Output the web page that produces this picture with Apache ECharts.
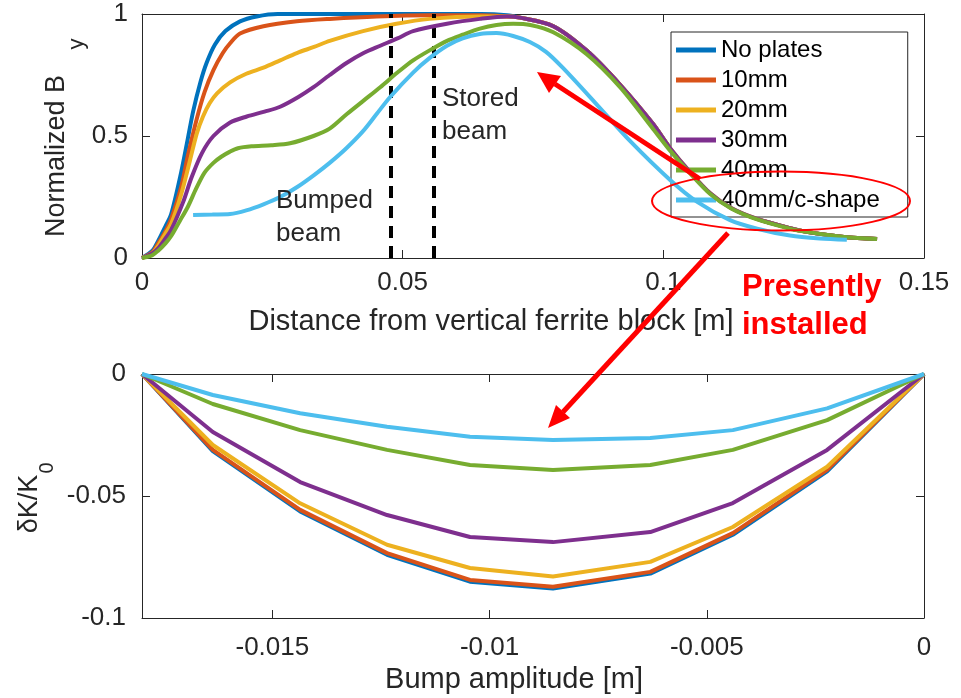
<!DOCTYPE html>
<html><head><meta charset="utf-8">
<script src="https://cdn.jsdelivr.net/npm/echarts@6/dist/echarts.min.js"></script>
<style>html,body{margin:0;padding:0;background:#fff}#c{width:961px;height:698px}</style>
</head><body><div id="c"></div>
<script>
// ---------- data ----------
const seriesNames = ['No plates', '10mm', '20mm', '30mm', '40mm', '40mm/c-shape'];
const colors = ['#0072BD', '#D95319', '#EDB120', '#7E2F8E', '#77AC30', '#4DBEEE'];

// Top plot: normalized By vs distance [m]  ([x, y] pairs)
const byNoPlates = [[0,0],[0.002,0.03],[0.0031,0.07],[0.0045,0.13],[0.0056,0.18],[0.0075,0.35],[0.0088,0.49],[0.0098,0.60],[0.0112,0.72],[0.0124,0.80],[0.014,0.875],[0.016,0.93],[0.0188,0.97],[0.022,0.99],[0.026,1.0],[0.04,1.0],[0.055,1.0],[0.065,1.0],[0.070,0.995],[0.0725,0.985],[0.0789,0.95],[0.0853,0.85],[0.0917,0.71],[0.098,0.55],[0.1013,0.45],[0.105,0.355],[0.109,0.265],[0.113,0.205],[0.118,0.16],[0.1243,0.122],[0.1275,0.107],[0.133,0.09],[0.1364,0.083],[0.141,0.078]];
const by10mm = [[0,0],[0.002,0.025],[0.0031,0.06],[0.0045,0.11],[0.0056,0.16],[0.0075,0.29],[0.0088,0.42],[0.0105,0.57],[0.012,0.68],[0.0137,0.77],[0.0155,0.84],[0.0169,0.88],[0.0188,0.92],[0.0233,0.95],[0.0297,0.97],[0.036,0.98],[0.045,0.99],[0.055,0.995],[0.065,0.995],[0.070,0.99],[0.0725,0.985],[0.0789,0.95],[0.0853,0.85],[0.0917,0.71],[0.098,0.55],[0.1013,0.45],[0.105,0.355],[0.109,0.265],[0.113,0.205],[0.118,0.16],[0.1243,0.122],[0.1275,0.107],[0.133,0.09],[0.1364,0.083],[0.141,0.078]];
const by20mm = [[0,0],[0.002,0.02],[0.0031,0.05],[0.0045,0.10],[0.0056,0.14],[0.0075,0.26],[0.0092,0.40],[0.0105,0.51],[0.0117,0.58],[0.013,0.635],[0.0144,0.675],[0.0169,0.72],[0.02,0.755],[0.0233,0.78],[0.0265,0.81],[0.0297,0.84],[0.033,0.865],[0.036,0.89],[0.0424,0.93],[0.0488,0.96],[0.0552,0.98],[0.0648,0.99],[0.070,0.99],[0.0725,0.985],[0.0789,0.95],[0.0853,0.85],[0.0917,0.71],[0.098,0.55],[0.1013,0.45],[0.105,0.355],[0.109,0.265],[0.113,0.205],[0.118,0.16],[0.1243,0.122],[0.1275,0.107],[0.133,0.09],[0.1364,0.083],[0.141,0.078]];
const by30mm = [[0,0],[0.002,0.02],[0.0031,0.04],[0.0045,0.08],[0.0056,0.115],[0.0079,0.23],[0.0095,0.33],[0.0115,0.43],[0.0137,0.50],[0.0169,0.555],[0.0201,0.58],[0.0235,0.60],[0.0265,0.62],[0.030,0.66],[0.0329,0.70],[0.036,0.75],[0.0393,0.80],[0.0425,0.84],[0.0457,0.87],[0.049,0.90],[0.052,0.93],[0.0585,0.96],[0.0648,0.98],[0.070,0.99],[0.0725,0.985],[0.0789,0.95],[0.0853,0.85],[0.0917,0.71],[0.098,0.55],[0.1013,0.45],[0.105,0.355],[0.109,0.265],[0.113,0.205],[0.118,0.16],[0.1243,0.122],[0.1275,0.107],[0.133,0.09],[0.1364,0.083],[0.141,0.078]];
const by40mm = [[0,0],[0.002,0.012],[0.0031,0.03],[0.0045,0.06],[0.0056,0.09],[0.0072,0.15],[0.0088,0.21],[0.0104,0.285],[0.012,0.35],[0.0137,0.39],[0.0152,0.415],[0.0168,0.435],[0.0184,0.45],[0.021,0.458],[0.0248,0.462],[0.0284,0.47],[0.0329,0.50],[0.036,0.53],[0.0393,0.59],[0.0425,0.645],[0.0457,0.70],[0.049,0.76],[0.052,0.81],[0.0555,0.855],[0.0585,0.89],[0.0615,0.915],[0.0648,0.94],[0.068,0.955],[0.0712,0.96],[0.0745,0.955],[0.0789,0.925],[0.0853,0.835],[0.0917,0.70],[0.098,0.53],[0.1013,0.44],[0.105,0.35],[0.109,0.262],[0.113,0.203],[0.118,0.158],[0.1243,0.12],[0.1275,0.107],[0.133,0.09],[0.1364,0.083],[0.141,0.078]];
const byCShape = [[0.0098,0.176],[0.0135,0.178],[0.0169,0.18],[0.0200,0.195],[0.0233,0.22],[0.0265,0.25],[0.0297,0.29],[0.033,0.34],[0.036,0.39],[0.0392,0.45],[0.0424,0.52],[0.045,0.59],[0.0476,0.66],[0.052,0.76],[0.0552,0.82],[0.0585,0.87],[0.0615,0.90],[0.0648,0.918],[0.068,0.922],[0.0712,0.91],[0.0744,0.885],[0.0775,0.845],[0.0807,0.78],[0.0872,0.63],[0.0936,0.48],[0.1013,0.32],[0.1065,0.23],[0.1128,0.155],[0.118,0.12],[0.1243,0.092],[0.13,0.08],[0.1352,0.075]];

const beamLines = [0.0478, 0.0559];   // dashed vertical markers [m]

// Bottom plot: dK/K0 vs bump amplitude [m]
const bumpX = [-0.018, -0.01637, -0.01436, -0.01236, -0.01045, -0.00854, -0.0063, -0.0044, -0.00223, 0];
const dkNoPlates = [0, -0.0316, -0.0563, -0.0741, -0.0851, -0.0879, -0.0818, -0.0659, -0.0399, 0];
const dk10mm     = [0, -0.0311, -0.0557, -0.0734, -0.0844, -0.0872, -0.0811, -0.0652, -0.0393, 0];
const dk20mm     = [0, -0.0291, -0.0530, -0.0700, -0.0795, -0.0830, -0.0770, -0.0627, -0.0380, 0];
const dk30mm     = [0, -0.0238, -0.0443, -0.0578, -0.0668, -0.0689, -0.0648, -0.0529, -0.0311, 0];
const dk40mm     = [0, -0.0123, -0.0230, -0.0311, -0.0373, -0.0393, -0.0373, -0.0311, -0.0189, 0];
const dkCShape   = [0, -0.0086, -0.0161, -0.0216, -0.0257, -0.0270, -0.0262, -0.0230, -0.0141, 0];

const bumpTicks = [-0.015, -0.01, -0.005, 0];

// ---------- chart ----------
const FONT = 'Liberation Sans, Arial, Helvetica, sans-serif';
const AX = '#262626';
const chart = echarts.init(document.getElementById('c'), null, {renderer: 'canvas'});

function axisBase(extra) {
  return Object.assign({
    type: 'value',
    splitLine: {show: false},
    axisLine: {show: true, onZero: false, lineStyle: {color: AX, width: 1}},
    axisTick: {show: true, inside: true, length: 8, lineStyle: {color: AX, width: 1}},
    axisLabel: {color: AX, fontSize: 26, fontFamily: FONT}
  }, extra);
}

const topSets = [byNoPlates, by10mm, by20mm, by30mm, by40mm, byCShape];
const botSets = [dkNoPlates, dk10mm, dk20mm, dk30mm, dk40mm, dkCShape];

const series = [];
topSets.forEach((d, i) => {
  const s = {
    name: seriesNames[i], type: 'line', xAxisIndex: 0, yAxisIndex: 0,
    data: d, showSymbol: false, symbol: 'none', smooth: 0.3,
    lineStyle: {color: colors[i], width: 4}, itemStyle: {color: colors[i]},
    z: 2 + i
  };
  if (i === topSets.length - 1) {
    s.markLine = {
      silent: true, symbol: 'none', label: {show: false}, precision: 6,
      lineStyle: {color: '#000', type: [12, 8], width: 4},
      data: beamLines.map(v => ({xAxis: v}))
    };
  }
  series.push(s);
});
botSets.forEach((d, i) => {
  series.push({
    name: seriesNames[i], type: 'line', xAxisIndex: 2, yAxisIndex: 2,
    data: bumpX.map((x, k) => [x, d[k]]), showSymbol: false, symbol: 'none',
    lineStyle: {color: colors[i], width: 4}, itemStyle: {color: colors[i]},
    z: 2 + i
  });
});

const txt = (o) => Object.assign({fill: AX, fontFamily: FONT}, o);
const RED = '#FF0000';

chart.setOption({
  animation: false,
  backgroundColor: '#fff',
  color: colors,
  grid: [
    {left: 142, top: 14, width: 782, height: 244},
    {left: 142, top: 374, width: 782, height: 244}
  ],
  xAxis: [
    axisBase({gridIndex: 0, position: 'bottom', min: 0, max: 0.15, interval: 0.05,
      axisLabel: {color: AX, fontSize: 26, fontFamily: FONT, margin: 12}}),
    axisBase({gridIndex: 0, position: 'top', min: 0, max: 0.15, interval: 0.05, axisLabel: {show: false}}),
    axisBase({gridIndex: 1, position: 'bottom', min: -0.018, max: 0,
      axisTick: {show: true, inside: true, length: 8, lineStyle: {color: AX}, customValues: bumpTicks},
      axisLabel: {color: AX, fontSize: 26, fontFamily: FONT, margin: 17, customValues: bumpTicks}}),
    axisBase({gridIndex: 1, position: 'top', min: -0.018, max: 0,
      axisTick: {show: true, inside: true, length: 8, lineStyle: {color: AX}, customValues: bumpTicks},
      axisLabel: {show: false, customValues: bumpTicks}})
  ],
  yAxis: [
    axisBase({gridIndex: 0, position: 'left', min: 0, max: 1, interval: 0.5,
      axisLabel: {color: AX, fontSize: 26, fontFamily: FONT, margin: 14}}),
    axisBase({gridIndex: 0, position: 'right', min: 0, max: 1, interval: 0.5, axisLabel: {show: false}}),
    axisBase({gridIndex: 1, position: 'left', min: -0.1, max: 0, interval: 0.05,
      axisLabel: {color: AX, fontSize: 26, fontFamily: FONT, margin: 16}}),
    axisBase({gridIndex: 1, position: 'right', min: -0.1, max: 0, interval: 0.05, axisLabel: {show: false}})
  ],
  legend: {
    show: true, orient: 'vertical', left: 671, top: 32,
    data: seriesNames, selectedMode: false,
    icon: 'rect', itemWidth: 40, itemHeight: 5, itemGap: 6,
    padding: [6, 28, 5, 5],
    backgroundColor: '#fff', borderColor: AX, borderWidth: 1,
    textStyle: {color: '#000', fontSize: 24, fontFamily: FONT, lineHeight: 24}
  },
  series: series,
  graphic: [
    {type: 'text', z: 20, style: txt({text: 'Stored\nbeam', x: 442, y: 115.5, fontSize: 26, lineHeight: 33, align: 'left', verticalAlign: 'middle'})},
    {type: 'text', z: 20, style: txt({text: 'Bumped\nbeam', x: 276, y: 217.5, fontSize: 26, lineHeight: 33, align: 'left', verticalAlign: 'middle'})},
    {type: 'text', z: 20, style: txt({text: 'Distance from vertical ferrite block [m]', x: 491, y: 322, fontSize: 29, align: 'center', verticalAlign: 'middle'})},
    {type: 'text', z: 20, style: txt({text: 'Bump amplitude [m]', x: 514, y: 680, fontSize: 29, align: 'center', verticalAlign: 'middle'})},
    {type: 'text', z: 20, x: 57, y: 156, rotation: Math.PI / 2, style: txt({text: 'Normalized B', x: 0, y: 0, fontSize: 27, align: 'center', verticalAlign: 'middle'})},
    {type: 'text', z: 20, x: 77, y: 44, rotation: Math.PI / 2, style: txt({text: 'y', x: 0, y: 0, fontSize: 22, align: 'center', verticalAlign: 'middle'})},
    {type: 'text', z: 20, x: 30, y: 504, rotation: Math.PI / 2, style: txt({text: 'δK/K', x: 0, y: 0, fontSize: 27, align: 'center', verticalAlign: 'middle'})},
    {type: 'text', z: 20, x: 47, y: 468, rotation: Math.PI / 2, style: txt({text: '0', x: 0, y: 0, fontSize: 20, align: 'center', verticalAlign: 'middle'})},
    {type: 'text', z: 30, style: {text: 'Presently\ninstalled', x: 742, y: 306, fill: RED, fontFamily: FONT, fontWeight: 'bold', fontSize: 31, lineHeight: 38, align: 'left', verticalAlign: 'middle'}},
    {type: 'ellipse', z: 30, shape: {cx: 781, cy: 201, rx: 129, ry: 29.5}, style: {fill: 'none', stroke: RED, lineWidth: 2}},
    {type: 'line', z: 30, shape: {x1: 700, y1: 179, x2: 555, y2: 84}, style: {stroke: RED, lineWidth: 5}},
    {type: 'polygon', z: 30, shape: {points: [[537, 72], [561, 76], [549, 93]]}, style: {fill: RED}},
    {type: 'line', z: 30, shape: {x1: 728, y1: 233, x2: 563, y2: 412}, style: {stroke: RED, lineWidth: 5}},
    {type: 'polygon', z: 30, shape: {points: [[548, 428], [556, 405], [570, 418]]}, style: {fill: RED}}
  ]
});
</script>
</body></html>
